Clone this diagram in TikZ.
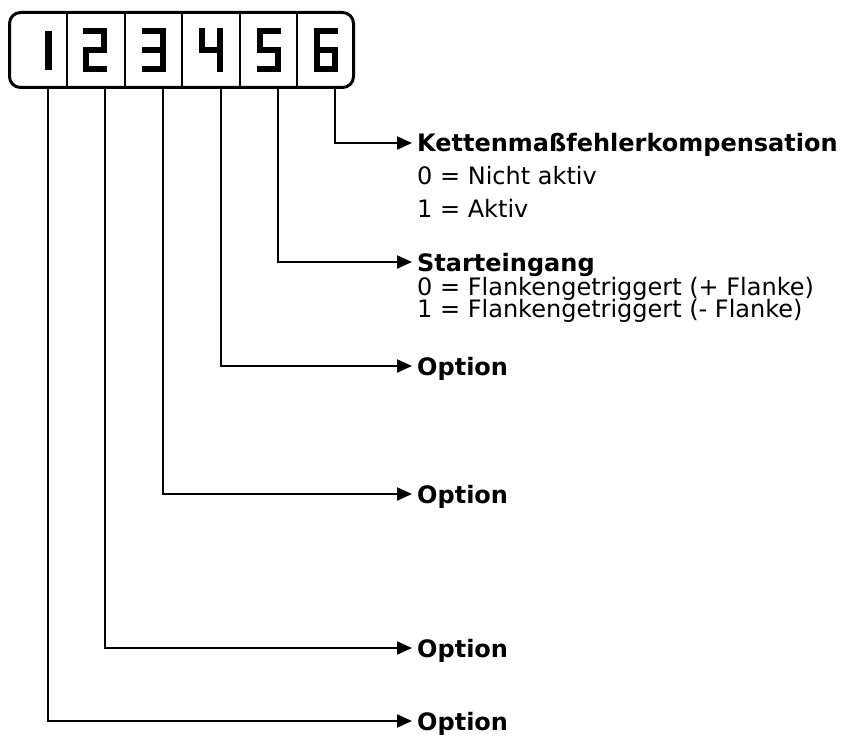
\documentclass[tikz,border=0pt]{standalone}
\usepackage{fontspec}
\setmainfont{DejaVu Sans}
\usetikzlibrary{arrows.meta,positioning}

\tikzset{
  seg/.style={line width=6.5pt, line join=miter, line cap=rect},
  lead/.style={line width=2pt, -{Triangle[length=15pt,width=13pt]}},
  head/.style={anchor=west, inner sep=0pt, text height=18pt, text depth=0pt,
    font=\fontsize{24}{28}\selectfont\bfseries},
  val/.style={anchor=base west, inner sep=0pt, font=\fontsize{24}{28}\selectfont}
}

\begin{document}
\begin{tikzpicture}[x=1pt,y=-1pt]
  \useasboundingbox (0,0) rectangle (843,738);

  % display frame
  \draw[line width=3pt, rounded corners=11pt] (9.5,12.5) rectangle (353.5,87.5);
  \foreach \xd in {67,125,182,240,297}
    \draw[line width=1.2pt] (\xd,12.5) -- (\xd,87.5);

  % digits
  \draw[seg] (48.5,34) -- (48.5,67);
  \begin{scope}[shift={(83,28)}]
    \draw[seg] (3,3) -- (21,3) -- (21,22) -- (3,22) -- (3,41) -- (21,41);
  \end{scope}
  \begin{scope}[shift={(142,28)}]
    \draw[seg] (3,3) -- (21,3) -- (21,41) -- (3,41);
    \draw[seg] (3,22) -- (21,22);
  \end{scope}
  \begin{scope}[shift={(199,28)}]
    \draw[seg] (3,3) -- (3,22) -- (21,22);
    \draw[seg] (21,3) -- (21,41);
  \end{scope}
  \begin{scope}[shift={(257,28)}]
    \draw[seg] (21,3) -- (3,3) -- (3,22) -- (21,22) -- (21,41) -- (3,41);
  \end{scope}
  \begin{scope}[shift={(314,28)}]
    \draw[seg] (21,3) -- (3,3) -- (3,41) -- (21,41) -- (21,22) -- (3,22);
  \end{scope}

  % leader start points
  \coordinate (c1) at (48,89);
  \coordinate (c2) at (105,89);
  \coordinate (c3) at (163,89);
  \coordinate (c4) at (221,89);
  \coordinate (c5) at (278,89);
  \coordinate (c6) at (335,89);

  % labels
  \node[head] (h6) at (417,143) {Kettenmaßfehlerkompensation};
  \node[val] (v60) at (417,185) {0 = Nicht aktiv};
  \node[val] (v61) at (417,218) {1 = Aktiv};

  \node[head] (h5) at (417,262) {Starteingang};
  \node[val] (v50) at (417,295) {0 = Flankengetriggert (+ Flanke)};
  \node[val] (v51) at (417,317) {1 = Flankengetriggert (- Flanke)};

  \node[head] (h4) at (417,366) {Option};
  \node[head] (h3) at (417,494) {Option};
  \node[head] (h2) at (417,648) {Option};
  \node[head] (h1) at (417,721) {Option};

  % leaders
  \foreach \i in {1,...,6}
    \draw[lead] (c\i) |- ([xshift=-5pt]h\i.west);
\end{tikzpicture}
\end{document}
